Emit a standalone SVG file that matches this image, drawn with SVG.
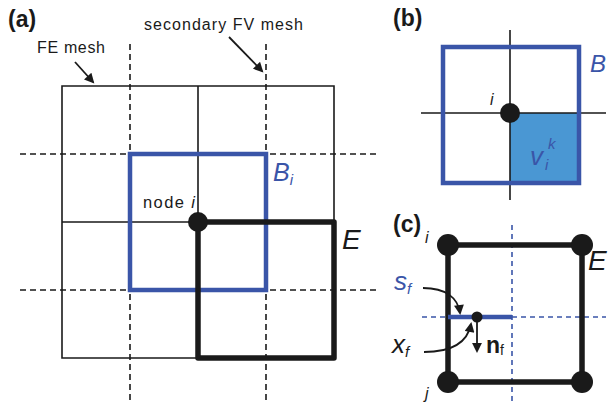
<svg xmlns="http://www.w3.org/2000/svg" width="610" height="406" viewBox="0 0 610 406">
<defs>
<style>
.thin{fill:none;stroke:#1a1a1a;stroke-width:1.6}
.dash{fill:none;stroke:#1a1a1a;stroke-width:1.6;stroke-dasharray:6 4}
.bdash{fill:none;stroke:#3a55a8;stroke-width:1.6;stroke-dasharray:5 4}
.blue{fill:none;stroke:#3a55a8;stroke-width:4.5}
.thick{fill:none;stroke:#1a1a1a;stroke-width:5.5;stroke-linejoin:round}
.dot{fill:#1a1a1a}
.lbl{font-family:"Liberation Sans",Arial,sans-serif;fill:#1a1a1a}
.pan{font-family:"Liberation Sans",Arial,sans-serif;font-weight:bold;font-size:23px;fill:#1a1a1a}
.math{font-family:"Liberation Sans",Arial,sans-serif;font-style:italic;fill:#1a1a1a}
.mblue{font-family:"Liberation Sans",Arial,sans-serif;font-style:italic;fill:#3a55a8}
.arr{fill:none;stroke:#1a1a1a;stroke-width:1.8}
</style>
<marker id="ah" viewBox="0 0 10 10" refX="8" refY="5" markerWidth="7" markerHeight="5.5" orient="auto" markerUnits="strokeWidth">
<path d="M0,0 L10,5 L0,10 z" fill="#1a1a1a"/>
</marker>
</defs>

<g id="panel-a">
<g id="fe-mesh">
<path class="thin" d="M62,86 H334 V358 H62 Z M198,86 V222 M62,222 H198 M198,222 V358"/>
</g>
<g id="fv-mesh">
<path class="dash" d="M130,44 V400 M266,44 V400 M20,154 H376 M20,290 H376"/>
</g>
<g id="Bi">
<rect class="blue" x="130" y="154" width="136" height="136"/>
<text class="mblue" x="273" y="181" font-size="25">B<tspan font-size="15" dy="4">i</tspan></text>
</g>
<g id="E">
<path class="thick" d="M198,222 H334 V358 H198 Z"/>
<text class="math" x="342" y="249" font-size="28">E</text>
</g>
<g id="node-i">
<circle class="dot" cx="198" cy="222" r="10"/>
<text class="lbl" x="143" y="208" font-size="16.5" textLength="52" lengthAdjust="spacing">node <tspan font-style="italic">i</tspan></text>
</g>
<text class="pan" x="8" y="27">(a)</text>
<text class="lbl" x="37" y="53" font-size="16" textLength="68" lengthAdjust="spacing">FE mesh</text>
<text class="lbl" x="144" y="30" font-size="16" textLength="159" lengthAdjust="spacing">secondary FV mesh</text>
<g id="connectors-a">
<path class="arr" d="M75,62 L93,82" marker-end="url(#ah)"/>
<path class="arr" d="M229,37 L262,71" marker-end="url(#ah)"/>
</g>
</g>

<g id="panel-b">
<text class="pan" x="393" y="26">(b)</text>
<rect x="510" y="113" width="69" height="70" fill="#4a97d3"/>
<path class="thin" d="M510,30 V200 M421,113 H606"/>
<rect class="blue" x="443" y="47" width="136" height="136" stroke-width="5"/>
<circle class="dot" cx="510" cy="113" r="10"/>
<text class="math" x="490" y="105" font-size="16">i</text>
<text class="mblue" x="590" y="72" font-size="24">B</text>
<text class="mblue" x="530" y="165" font-size="26">v</text>
<text class="mblue" x="545" y="170" font-size="15">i</text>
<text class="mblue" x="548" y="149" font-size="15">k</text>
</g>

<g id="panel-c">
<text class="pan" x="393" y="232">(c)</text>
<path class="bdash" d="M512,225 V402 M422,317 H606"/>
<path class="thick" d="M448,245 H582 V382 H448 Z"/>
<path d="M448,317 H512" stroke="#3a55a8" stroke-width="4.5"/>
<circle class="dot" cx="448" cy="245" r="11"/>
<circle class="dot" cx="582" cy="245" r="11"/>
<circle class="dot" cx="448" cy="382" r="11"/>
<circle class="dot" cx="582" cy="382" r="11"/>
<circle class="dot" cx="477" cy="317" r="5.5"/>
<text class="math" x="425" y="243" font-size="16">i</text>
<text class="math" x="425" y="399" font-size="16">j</text>
<text class="math" x="588" y="270" font-size="28">E</text>
<text class="mblue" x="394" y="290" font-size="26">s<tspan font-size="15" dy="4">f</tspan></text>
<text class="math" x="392" y="353" font-size="26">x<tspan font-size="15" dy="4">f</tspan></text>
<text class="lbl" x="486" y="353" font-size="23" font-weight="bold">n<tspan font-size="14" font-weight="normal" dy="2">f</tspan></text>
<g id="connectors-c">
<path class="arr" d="M423,288 C446,288 458,298 460,313" marker-end="url(#ah)"/>
<path class="arr" d="M424,352 C456,352 468,340 471,324" marker-end="url(#ah)"/>
<path class="arr" d="M477,317 V351" marker-end="url(#ah)"/>
</g>
</g>
</svg>
